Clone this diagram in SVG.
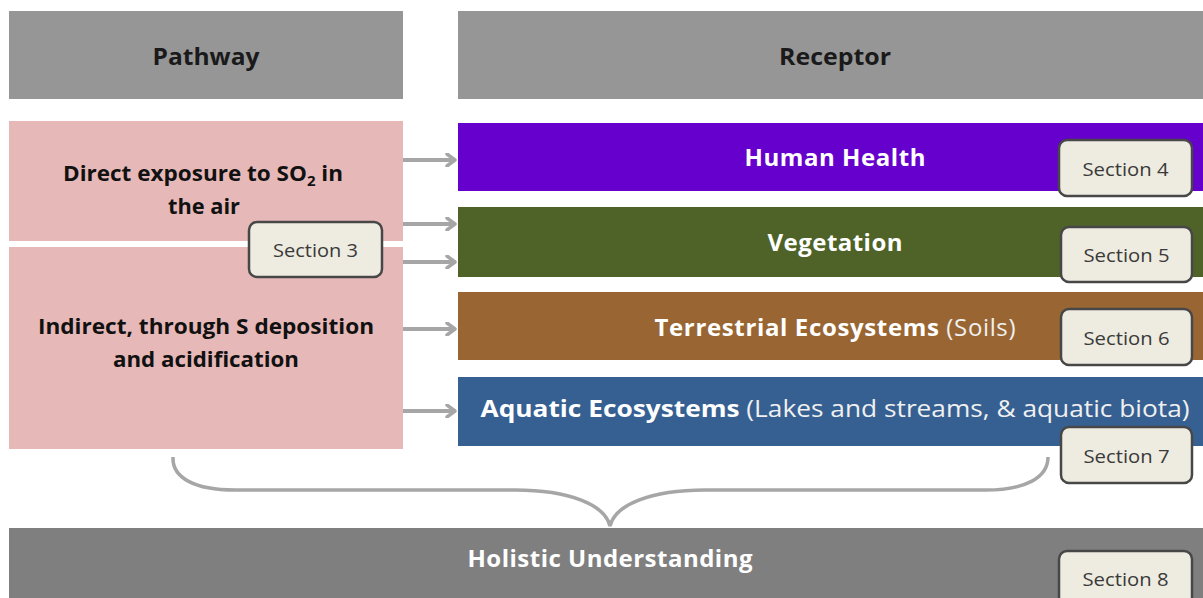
<svg xmlns="http://www.w3.org/2000/svg" width="1203" height="598" viewBox="0 0 1203 598">
  <style>
    .hdr { fill: #969696; }
    .hdr-t { font-family: "Open Sans", Lato, sans-serif; font-weight: bold; font-size: 23px; fill: #1a1a1a; text-anchor: middle; }
    .path { fill: #e6b8b7; }
    .path-t { font-family: "Open Sans", Lato, sans-serif; font-weight: bold; font-size: 21px; fill: #111; text-anchor: middle; }
    .rec-t { font-family: "Open Sans", Lato, sans-serif; font-weight: bold; font-size: 24px; fill: #ffffff; text-anchor: middle; }
    .lite { font-weight: normal; fill: #f0f0f0; }
    .sec rect { fill: #eeebe0; stroke: #474747; stroke-width: 2.5; }
    .sec text { font-family: "Open Sans", Lato, sans-serif; font-size: 18px; fill: #3a3a3a; text-anchor: middle; }
    .conn line { stroke: #a6a6a6; stroke-width: 4; marker-end: url(#chev); }
    .brace { fill: none; stroke: #a6a6a6; stroke-width: 3.5; }
  </style>
  <defs>
    <marker id="chev" viewBox="0 0 12 14" refX="10" refY="7" markerWidth="12" markerHeight="14" markerUnits="userSpaceOnUse" orient="auto">
      <path d="M2 1 L10 7 L2 13" fill="none" stroke="#a6a6a6" stroke-width="3.5" stroke-linecap="round" stroke-linejoin="round"/>
    </marker>
  </defs>
  <rect width="1203" height="598" fill="#ffffff"/>

  <!-- column headers -->
  <g id="hdr-pathway">
    <rect class="hdr" x="9" y="11" width="394" height="88"/>
    <text class="hdr-t" x="206" y="65" textLength="107" lengthAdjust="spacingAndGlyphs">Pathway</text>
  </g>
  <g id="hdr-receptor">
    <rect class="hdr" x="458" y="11" width="745" height="88"/>
    <text class="hdr-t" x="835" y="65" textLength="112" lengthAdjust="spacingAndGlyphs">Receptor</text>
  </g>

  <!-- pathways -->
  <g id="path-direct">
    <rect class="path" x="9" y="121" width="394" height="120"/>
    <text class="path-t" x="203" y="181" textLength="280" lengthAdjust="spacingAndGlyphs">Direct exposure to SO<tspan font-size="14" dy="5">2</tspan><tspan dy="-5"> in</tspan></text>
    <text class="path-t" x="204" y="214" textLength="72" lengthAdjust="spacingAndGlyphs">the air</text>
  </g>
  <g id="path-indirect">
    <rect class="path" x="9" y="247" width="394" height="202"/>
    <text class="path-t" x="206" y="334" textLength="336" lengthAdjust="spacingAndGlyphs">Indirect, through S deposition</text>
    <text class="path-t" x="206" y="367" textLength="186" lengthAdjust="spacingAndGlyphs">and acidification</text>
  </g>

  <!-- receptors -->
  <g id="rec-human">
    <rect x="458" y="123" width="745" height="68" fill="#6600cc"/>
    <text class="rec-t" x="835" y="166" textLength="181" lengthAdjust="spacing">Human  Health</text>
  </g>
  <g id="rec-veg">
    <rect x="458" y="207" width="745" height="70" fill="#4f6228"/>
    <text class="rec-t" x="835" y="251" textLength="135" lengthAdjust="spacing">Vegetation</text>
  </g>
  <g id="rec-terr">
    <rect x="458" y="292" width="745" height="68" fill="#996633"/>
    <text class="rec-t" x="835" y="336" textLength="361" lengthAdjust="spacing">Terrestrial  Ecosystems <tspan class="lite">(Soils)</tspan></text>
  </g>
  <g id="rec-aqua">
    <rect x="458" y="377" width="745" height="69" fill="#366092"/>
    <text class="rec-t" x="835" y="417" textLength="709" lengthAdjust="spacingAndGlyphs">Aquatic  Ecosystems <tspan class="lite">(Lakes and streams, &amp; aquatic biota)</tspan></text>
  </g>

  <!-- synthesis -->
  <g id="holistic">
    <rect x="9" y="528" width="1194" height="70" fill="#7f7f7f"/>
    <text class="rec-t" x="610" y="567" textLength="285" lengthAdjust="spacing">Holistic  Understanding</text>
  </g>

  <!-- connectors -->
  <g id="connectors" class="conn">
    <line x1="403" y1="160" x2="455" y2="160"/>
    <line x1="403" y1="224" x2="455" y2="224"/>
    <line x1="403" y1="262" x2="455" y2="262"/>
    <line x1="403" y1="329" x2="455" y2="329"/>
    <line x1="403" y1="411" x2="455" y2="411"/>
    <path class="brace" d="M173 457 C172 478 195 490 235 490 L515 490 C570 490 605 505 610 526 C615 505 650 490 705 490 L985 490 C1025 490 1048 478 1048 457"/>
  </g>

  <!-- section tags -->
  <g id="sec3" class="sec"><rect x="249" y="222" width="133" height="55" rx="8"/><text x="315.5" y="257" textLength="85" lengthAdjust="spacingAndGlyphs">Section 3</text></g>
  <g id="sec4" class="sec"><rect x="1059" y="140" width="133" height="56" rx="8"/><text x="1125.5" y="176" textLength="86" lengthAdjust="spacingAndGlyphs">Section 4</text></g>
  <g id="sec5" class="sec"><rect x="1061" y="227" width="131" height="55" rx="8"/><text x="1126.5" y="262" textLength="86" lengthAdjust="spacingAndGlyphs">Section 5</text></g>
  <g id="sec6" class="sec"><rect x="1061" y="309" width="131" height="56" rx="8"/><text x="1126.5" y="345" textLength="86" lengthAdjust="spacingAndGlyphs">Section 6</text></g>
  <g id="sec7" class="sec"><rect x="1061" y="427" width="131" height="56" rx="8"/><text x="1126.5" y="463" textLength="86" lengthAdjust="spacingAndGlyphs">Section 7</text></g>
  <g id="sec8" class="sec"><rect x="1059" y="551" width="133" height="58" rx="8"/><text x="1125.5" y="586" textLength="86" lengthAdjust="spacingAndGlyphs">Section 8</text></g>
</svg>
